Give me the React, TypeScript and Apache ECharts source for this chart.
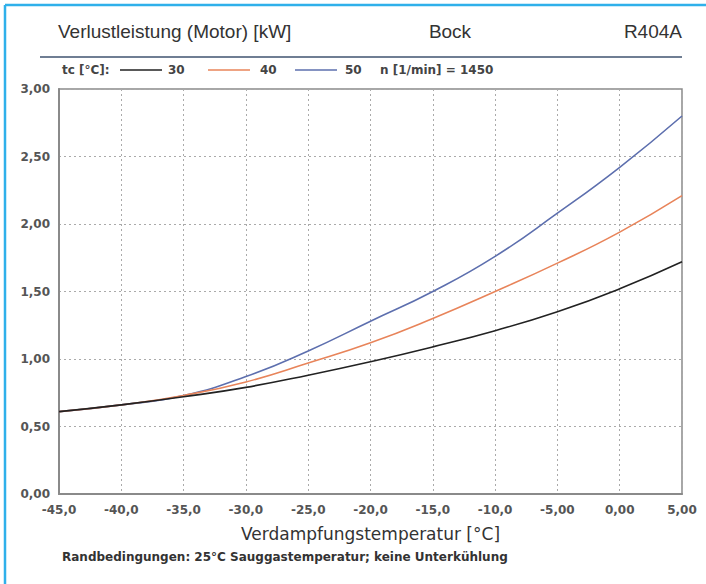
import React, { useEffect, useRef } from "react";
import * as echarts from "echarts";

const xTicks = [-45, -40, -35, -30, -25, -20, -15, -10, -5, 0, 5];
const xTickLabels = ["-45,0", "-40,0", "-35,0", "-30,0", "-25,0", "-20,0", "-15,0", "-10,0", "-5,00", "0,00", "5,00"];
const yTickLabels = ["0,00", "0,50", "1,00", "1,50", "2,00", "2,50", "3,00"];

const tc30 = [0.61, 0.66, 0.72, 0.79, 0.88, 0.98, 1.09, 1.21, 1.35, 1.52, 1.72];
const tc40 = [0.61, 0.66, 0.73, 0.83, 0.97, 1.12, 1.30, 1.50, 1.71, 1.94, 2.21];
const tc50 = [0.61, 0.66, 0.73, 0.87, 1.06, 1.28, 1.50, 1.76, 2.08, 2.42, 2.80];

const seriesNames = ["30", "40", "50"];
const seriesColors = ["#222222", "#e8845a", "#5d6fae"];

const title = "Verlustleistung (Motor) [kW]";
const brand = "Bock";
const refrigerant = "R404A";
const legendLabel = "tc [°C]:";
const speedLabel = "n [1/min] = 1450";
const xAxisName = "Verdampfungstemperatur [°C]";
const footer = "Randbedingungen: 25°C Sauggastemperatur; keine Unterkühlung";

export default function App() {
  const ref = useRef<HTMLDivElement>(null);
  useEffect(() => {
    document.body.style.margin = "0";
    const chart = echarts.init(ref.current!, null, { renderer: "svg" });
    const pairs = (ys: number[]) => xTicks.map((x, i) => [x, ys[i]]);
    const all = [tc30, tc40, tc50];
    const head = "Arial, 'Liberation Sans', sans-serif";
    const small = "'DejaVu Sans', Verdana, sans-serif";
    const legendItems: any[] = [];
    const legendX = [[120, 162, 168], [208, 250, 260], [295, 337, 345]];
    seriesNames.forEach((n, i) => {
      const [x1, x2, tx] = legendX[i];
      legendItems.push({ type: "line", shape: { x1, y1: 70, x2, y2: 70 }, style: { stroke: seriesColors[i], lineWidth: 1.6 } });
      legendItems.push({ type: "text", x: tx, y: 70, style: { text: n, fill: "#444", font: `bold 12px ${small}`, verticalAlign: "middle" } });
    });
    chart.setOption({
      animation: false,
      backgroundColor: "#ffffff",
      grid: { left: 59, right: 24, top: 89, bottom: 90, show: true, borderColor: "#8a8a8a", borderWidth: 1.5, containLabel: false },
      xAxis: {
        type: "value",
        min: -45,
        max: 5,
        interval: 5,
        name: xAxisName,
        nameLocation: "middle",
        nameGap: 31,
        nameTextStyle: { fontSize: 17, color: "#333", fontFamily: small },
        axisLine: { show: true, onZero: false, lineStyle: { color: "#8a8a8a", width: 2 } },
        axisTick: { show: false },
        axisLabel: {
          margin: 10,
          fontSize: 12,
          fontWeight: "bold",
          color: "#555",
          fontFamily: small,
          formatter: (v: number) => xTickLabels[xTicks.indexOf(v)] ?? "",
        },
        splitLine: { show: true, lineStyle: { color: "#aaaaaa", type: [2, 3], width: 1 } },
      },
      yAxis: {
        type: "value",
        min: 0,
        max: 3,
        interval: 0.5,
        axisLine: { show: true, onZero: false, lineStyle: { color: "#8a8a8a", width: 2 } },
        axisTick: { show: false },
        axisLabel: {
          margin: 9,
          fontSize: 12,
          fontWeight: "bold",
          color: "#555",
          fontFamily: small,
          formatter: (v: number) => yTickLabels[Math.round(v / 0.5)] ?? "",
        },
        splitLine: { show: true, lineStyle: { color: "#aaaaaa", type: [2, 3], width: 1 } },
      },
      series: all.map((ys, i) => ({
        type: "line",
        name: seriesNames[i],
        data: pairs(ys),
        smooth: true,
        symbol: "none",
        lineStyle: { color: seriesColors[i], width: 1.6 },
        z: 3 - i,
      })),
      graphic: [
        { type: "line", shape: { x1: 5, y1: 5, x2: 706, y2: 5 }, style: { stroke: "#2fb0ea", lineWidth: 2.5 } },
        { type: "line", shape: { x1: 5, y1: 5, x2: 5, y2: 584 }, style: { stroke: "#2fb0ea", lineWidth: 2.5 } },
        { type: "text", x: 58, y: 31, style: { text: title, fill: "#333", font: `19px ${head}`, verticalAlign: "middle" } },
        { type: "text", x: 450, y: 31, style: { text: brand, fill: "#333", font: `19px ${head}`, align: "center", verticalAlign: "middle" } },
        { type: "text", x: 682, y: 31, style: { text: refrigerant, fill: "#333", font: `19px ${head}`, align: "right", verticalAlign: "middle" } },
        { type: "line", shape: { x1: 40, y1: 57, x2: 682, y2: 57 }, style: { stroke: "#6f7e93", lineWidth: 2 } },
        { type: "text", x: 62, y: 70, style: { text: legendLabel, fill: "#444", font: `bold 12px ${small}`, verticalAlign: "middle" } },
        ...legendItems,
        { type: "text", x: 380, y: 70, style: { text: speedLabel, fill: "#444", font: `bold 12px ${small}`, verticalAlign: "middle" } },
        { type: "text", x: 62, y: 557, style: { text: footer, fill: "#333", font: `bold 12px ${small}`, verticalAlign: "middle" } },
      ],
    });
    return () => chart.dispose();
  }, []);
  return <div ref={ref} style={{ width: 706, height: 584 }} />;
}
